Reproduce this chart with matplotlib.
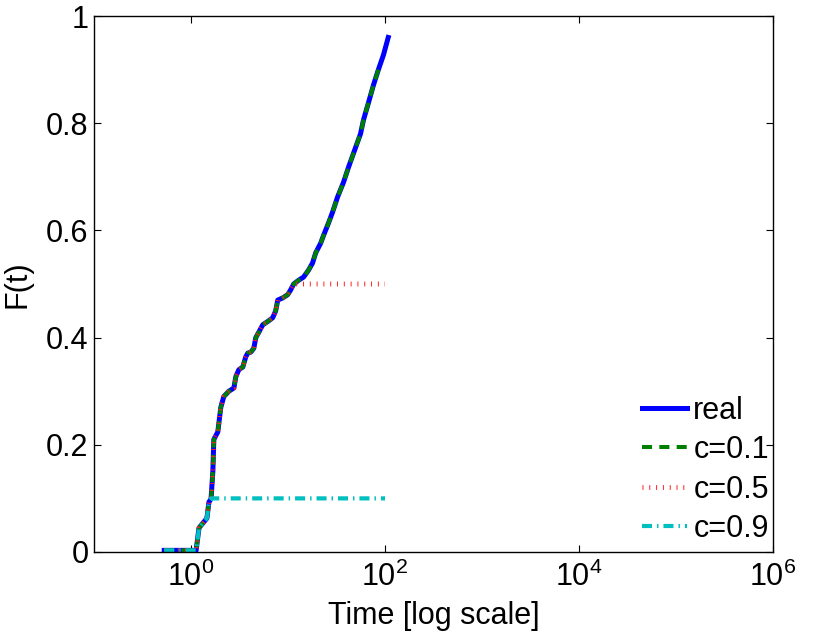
import numpy as np
import matplotlib
matplotlib.use('Agg')
import matplotlib.pyplot as plt

plt.rcParams['font.family'] = ['Liberation Sans', 'DejaVu Sans']
plt.rcParams['mathtext.fontset'] = 'custom'
plt.rcParams['mathtext.rm'] = 'Liberation Sans'
plt.rcParams['mathtext.it'] = 'Liberation Sans'

t_real = [0.53, 1.13, 1.21, 1.46, 1.53, 1.61, 1.68, 1.72, 1.89, 2.03, 2.18, 2.46,
          2.77, 2.90, 3.11, 3.42, 3.67, 3.85, 4.14, 4.44, 4.66, 5.00, 5.50, 6.18,
          6.96, 7.47, 7.84, 8.82, 9.93, 10.66, 11.45, 12.88, 14.5, 16.3, 17.9,
          19.3, 21.7, 23.3, 26.2, 28.8, 32.4, 37.4, 42.1, 49.6, 55.9, 60.0, 67.5,
          76.0, 85.5, 96.3, 108.0]
F_real = [0.003, 0.003, 0.045, 0.063, 0.093, 0.099, 0.15, 0.21, 0.224, 0.27, 0.29, 0.30,
          0.306, 0.327, 0.34, 0.345, 0.364, 0.371, 0.373, 0.38, 0.40, 0.41, 0.424, 0.43,
          0.437, 0.45, 0.47, 0.474, 0.48, 0.489, 0.50, 0.507, 0.513, 0.526, 0.539,
          0.558, 0.576, 0.591, 0.614, 0.634, 0.662, 0.69, 0.718, 0.754, 0.78, 0.806, 0.838,
          0.871, 0.90, 0.927, 0.96]

# censoring levels: curve is observed until F reaches 1-c, then stays flat
c_levels = [0.1, 0.5, 0.9]
t_end = 100.0


def censored(c):
    t = np.array(t_real)
    F = np.array(F_real)
    lim = 1 - c
    keep = F < lim
    tc = np.interp(lim, F, t)
    tt = np.concatenate([t[keep], [tc, t_end]])
    ff = np.concatenate([F[keep], [lim, lim]])
    return tt, ff


fig = plt.figure(figsize=(8.13, 6.33), dpi=100)
ax = fig.add_axes([0.1156, 0.128, 0.8352, 0.8467])

ax.plot(t_real, F_real, color='blue', lw=3.6, label='real')

tt, ff = censored(0.1)
ax.plot(tt, ff, color=(0, 0.5, 0), lw=2.9, linestyle=(0, (2.5, 1.8)), label='c=0.1')
tt, ff = censored(0.5)
ax.plot(tt, ff, color='#ff2020', lw=3.5, linestyle=(0, (0.2, 1.2)), label='c=0.5')
tt, ff = censored(0.9)
ax.plot(tt, ff, color=(0, 0.75, 0.75), lw=3.0,
        linestyle=(0, (2.4, 1.2, 0.35, 1.2)), label='c=0.9')

ax.set_xscale('log')
ax.set_xlim(1e-1, 1e6)
ax.set_ylim(0, 1)
ax.set_xticks([1, 1e2, 1e4, 1e6])
ax.set_xticklabels(['$10^0$', '$10^2$', '$10^4$', '$10^6$'])
ax.minorticks_off()
ax.set_yticks([0, 0.2, 0.4, 0.6, 0.8, 1])
ax.set_yticklabels(['0', '0.2', '0.4', '0.6', '0.8', '1'])
ax.tick_params(direction='in', length=5, width=0.8, top=True, right=True,
               labelsize=22)
ax.tick_params(axis='x', pad=7)
ax.tick_params(axis='y', pad=4)
for s in ax.spines.values():
    s.set_linewidth(1.0)

ax.set_xlabel('Time [log scale]', fontsize=22, labelpad=6)
ax.set_ylabel('F(t)', fontsize=22)
ax.yaxis.set_label_coords(-0.09, 0.5)

ax.legend(loc='lower right', bbox_to_anchor=(1.012, -0.008), frameon=False,
          fontsize=22, handlelength=1.47, handletextpad=0.2, labelspacing=0.31,
          borderaxespad=0.0)

fig.savefig('out.png', dpi=100)
